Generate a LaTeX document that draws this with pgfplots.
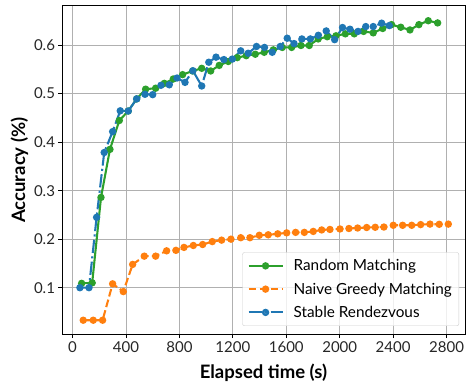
\documentclass[border=0pt]{standalone}
\usepackage{pgfplots}
\pgfplotsset{compat=1.18}
\usepackage{pgfplotstable}
\usepackage{fontspec}
\setmainfont{Lato}
\definecolor{tabgreen}{HTML}{2CA02C}
\definecolor{taborange}{HTML}{FF7F0E}
\definecolor{tabblue}{HTML}{1F77B4}
\definecolor{gridgray}{HTML}{B0B0B0}
\definecolor{ticktext}{HTML}{262626}

\pgfplotstableread{
x y
68 0.109
147 0.110
213 0.286
280 0.385
350 0.4445
417 0.464
480 0.489
547 0.509
622 0.511
687 0.521
754 0.530
824 0.539
899 0.5465
967 0.552
1034 0.5465
1098 0.558
1166 0.566
1233 0.574
1300 0.578
1368 0.581
1435 0.585
1503 0.590
1570 0.595
1640 0.595
1710 0.599
1772 0.599
1839 0.6125
1907 0.617
1972 0.619
2042 0.623
2109 0.623
2179 0.628
2251 0.625
2322 0.634
2388 0.642
2457 0.6366
2526 0.631
2593 0.642
2663 0.650
2733 0.6455
}\randomtab

\pgfplotstableread{
x y
80 0.033
155 0.033
225 0.033
300 0.108
380 0.092
450 0.148
537 0.165
622 0.165
704 0.176
774 0.177
834 0.183
904 0.187
974 0.189
1046 0.195
1116 0.198
1186 0.200
1259 0.203
1328 0.203
1398 0.208
1465 0.209
1536 0.211
1603 0.213
1670 0.214
1735 0.214
1802 0.216
1865 0.219
1927 0.220
2002 0.221
2069 0.222
2134 0.223
2202 0.224
2266 0.2245
2331 0.225
2401 0.2286
2471 0.2286
2539 0.2286
2606 0.230
2676 0.231
2745 0.2306
2813 0.231
}\greedytab

\pgfplotstableread{
x y
55 0.100
123 0.100
180 0.245
237 0.3786
300 0.4215
357 0.4645
417 0.464
480 0.489
542 0.4985
600 0.4977
662 0.517
724 0.518
782 0.532
842 0.523
901 0.547
967 0.5156
1020 0.5645
1074 0.575
1133 0.570
1196 0.571
1259 0.588
1315 0.583
1377 0.597
1437 0.595
1495 0.585
1555 0.597
1607 0.614
1658 0.603
1717 0.6125
1780 0.6125
1840 0.620
1899 0.629
1962 0.611
2021 0.636
2077 0.6325
2137 0.628
2195 0.638
2251 0.638
2314 0.645
2371 0.640
}\stabletab

\begin{document}
\begin{tikzpicture}[x=1pt,y=1pt]
\path[use as bounding box] (-62,-52.3) rectangle (404,334.7);
\begin{axis}[
  at={(0,0)}, anchor=south west,
  scale only axis, width=403pt, height=329pt,
  xmin=-79, xmax=2938, ymin=0.0032, ymax=0.681,
  xtick={0,400,...,2800},
  ytick={0.1,0.2,0.3,0.4,0.5,0.6},
  yticklabel style={/pgf/number format/fixed,/pgf/number format/precision=1,/pgf/number format/fixed zerofill},
  xticklabel style={/pgf/number format/set thousands separator={}},
  /pgf/number format/assume math mode=true,
  ticklabel style={font=\fontsize{15}{17}\selectfont, text=ticktext},
  tick align=outside, tick pos=left,
  major tick length=3.5pt,
  every tick/.style={black, line width=0.8pt},
  axis line style={black, line width=0.8pt},
  grid=major,
  major grid style={gridgray, line width=0.8pt},
  xlabel={\textbf{Elapsed time (s)}},
  ylabel={\textbf{Accuracy (\%)}},
  label style={font=\fontsize{18.5}{21}\selectfont},
  xlabel style={at={(axis description cs:0.5,0)}, anchor=base, yshift=-44pt},
  ylabel shift=-1pt,
  legend style={at={(1,0)}, anchor=south east, xshift=-6pt, yshift=8.7pt,
    draw=black!20, rounded corners=2pt, fill=white, fill opacity=0.8, text opacity=1,
    font=\fontsize{15.3}{17}\selectfont, row sep=6.5pt, inner xsep=5pt, inner ysep=5pt},
  legend cell align=left,
  legend image code/.code={\draw[mark repeat=2,mark phase=2] plot coordinates {(0pt,0pt) (17pt,0pt) (34pt,0pt)}; \path (42pt,0pt);},
]
\addplot[tabgreen, line width=2.08pt, mark=*, mark size=2.6pt, mark options={solid}] table[x=x,y=y] {\randomtab};
\addlegendentry{Random Matching}
\addplot[taborange, line width=2.08pt, dash pattern=on 7.7pt off 3.3pt, mark=*, mark size=2.6pt, mark options={solid}] table[x=x,y=y] {\greedytab};
\addlegendentry{Naive Greedy Matching}
\addplot[tabblue, line width=2.08pt, dash pattern=on 13.3pt off 3.3pt on 2.1pt off 3.3pt, mark=*, mark size=2.6pt, mark options={solid}] table[x=x,y=y] {\stabletab};
\addlegendentry{Stable Rendezvous}
\end{axis}
\end{tikzpicture}
\end{document}
